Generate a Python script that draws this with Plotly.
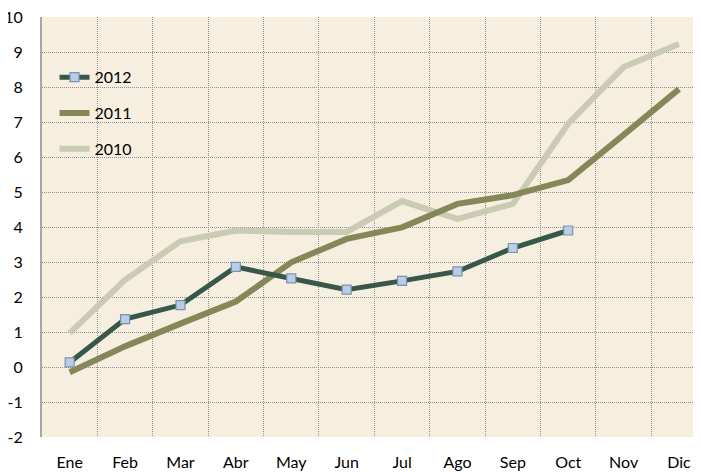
import plotly.graph_objects as go

months = ["Ene", "Feb", "Mar", "Abr", "May", "Jun", "Jul", "Ago", "Sep", "Oct", "Nov", "Dic"]
y2012 = [0.13, 1.37, 1.77, 2.86, 2.53, 2.21, 2.46, 2.73, 3.40, 3.90]
y2011 = [-0.15, 0.59, 1.24, 1.87, 2.99, 3.66, 3.99, 4.66, 4.91, 5.34, 6.63, 7.94]
y2010 = [0.97, 2.49, 3.59, 3.90, 3.86, 3.86, 4.74, 4.23, 4.66, 6.95, 8.57, 9.23]
y_ticks = list(range(-2, 11))

FONT = "Lato"

fig = go.Figure()
fig.add_trace(go.Scatter(
    x=months, y=y2010, name="2010", mode="lines",
    line=dict(color="#c9cbb3", width=6), legendrank=3, legendgroup="c",
))
fig.add_trace(go.Scatter(
    x=months, y=y2011, name="2011", mode="lines",
    line=dict(color="#848859", width=6), legendrank=2, legendgroup="b",
))
fig.add_trace(go.Scatter(
    x=months[:len(y2012)], y=y2012, name="2012", mode="lines+markers",
    line=dict(color="#36574a", width=5),
    marker=dict(symbol="square", size=9, color="#b9cde5", line=dict(color="#7893b2", width=1.2)),
    legendrank=1, legendgroup="a",
))

# the page body adds an 8px offset; sizes/margins compensate for it
fig.update_layout(
    width=693, height=464,
    margin=dict(l=34, r=0, t=9, b=35),
    paper_bgcolor="white",
    plot_bgcolor="#f6efdf",
    font=dict(family=FONT, size=16, color="black"),
    showlegend=True,
    legend=dict(
        x=0.019, y=0.897, xanchor="left", yanchor="top",
        bgcolor="rgba(0,0,0,0)", tracegroupgap=12,
        traceorder="grouped",
        font=dict(family=FONT, size=16),
    ),
)
fig.update_xaxes(
    type="category", categoryorder="array", categoryarray=months,
    range=[-0.5, 11.397], tickson="boundaries", automargin=False,
    ticklabeloverflow="allow",
    showgrid=True, gridcolor="#8f8f8f", griddash="1px,1px", gridwidth=1,
    showline=False, zeroline=False, ticks="", ticklabelstandoff=14,
)
fig.update_yaxes(
    range=[-2, 10], tickvals=y_ticks, ticktext=[str(v) for v in y_ticks],
    automargin=False, ticklabeloverflow="allow",
    showgrid=True, gridcolor="#8f8f8f", griddash="1px,1px", gridwidth=1,
    zeroline=False, showline=True, linecolor="#a6a6a6", linewidth=2,
    ticks="", ticklabelstandoff=14,
)
fig.write_html("out.html")
